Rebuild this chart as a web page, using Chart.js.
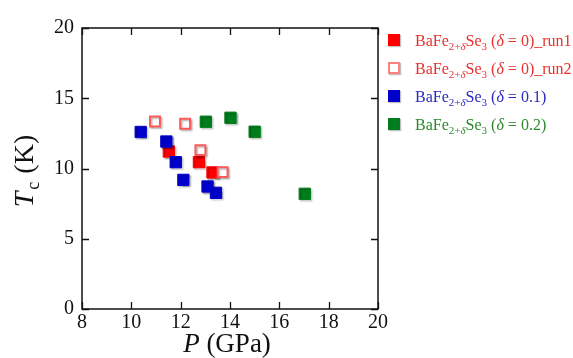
<!DOCTYPE html>
<html>
<head>
<meta charset="utf-8">
<script src="https://cdn.jsdelivr.net/npm/chart.js@4.4.1/dist/chart.umd.min.js"></script>
<style>
html,body{margin:0;padding:0;background:#fff;}
#wrap{width:573px;height:358px;position:relative;}
</style>
</head>
<body>
<div id="wrap"><canvas id="c" width="573" height="358"></canvas></div>
<script>
// ---- data ----
const pRun1  = [11.52, 12.74, 13.29];
const tcRun1 = [11.21, 10.45, 9.72];
const pRun2  = [10.96, 12.18, 12.80, 13.70];
const tcRun2 = [13.35, 13.19, 11.31, 9.74];
const pD01   = [10.38, 11.42, 11.80, 12.11, 13.09, 13.43];
const tcD01  = [12.60, 11.92, 10.45, 9.19, 8.72, 8.27];
const pD02   = [13.02, 14.02, 15.00, 17.03];
const tcD02  = [13.33, 13.61, 12.62, 8.20];
const xTickValues = [8, 10, 12, 14, 16, 18, 20];
const yTickValues = [0, 5, 10, 15, 20];
const legendDelta = ['0)_run1', '0)_run2', '0.1)', '0.2)'];

const RED = '#ff0000', OPEN = '#ff5a5a', BLUE = '#0000cc', GREEN = '#007d1c';
const legendTextColors = ['#e8302c', '#e8302c', '#2828c4', '#2a8a2a'];

function pts(xs, ys){ return xs.map((v,i)=>({x:v, y:ys[i]})); }

const SERIF = '"Liberation Serif", "Times New Roman", serif';

const framePlugin = {
  id: 'frame',
  beforeDatasetsDraw(chart){
    const ctx = chart.ctx;
    ctx.save();
    ctx.shadowColor = 'rgba(0,0,0,0.28)';
    ctx.shadowOffsetX = 1.5;
    ctx.shadowOffsetY = 1.5;
    ctx.shadowBlur = 1.5;
  },
  afterDatasetsDraw(chart){ chart.ctx.restore(); },
  afterDraw(chart){
    const {ctx, chartArea:{left,right,top,bottom}, scales:{x,y}} = chart;
    ctx.save();
    ctx.strokeStyle = '#111';
    ctx.lineWidth = 1.5;
    ctx.strokeRect(left, top, right-left, bottom-top);
    ctx.lineWidth = 1.3;
    const tl = 7;
    ctx.beginPath();
    x.ticks.forEach(t=>{
      const px = Math.round(x.getPixelForValue(t.value))+0.5;
      ctx.moveTo(px, bottom); ctx.lineTo(px, bottom-tl);
      ctx.moveTo(px, top); ctx.lineTo(px, top+tl);
    });
    y.ticks.forEach(t=>{
      const py = Math.round(y.getPixelForValue(t.value))+0.5;
      ctx.moveTo(left, py); ctx.lineTo(left+tl, py);
      ctx.moveTo(right, py); ctx.lineTo(right-tl, py);
    });
    ctx.stroke();

    // axis titles
    ctx.fillStyle = '#111';
    ctx.textBaseline = 'alphabetic';
    // x title: P (GPa)
    const fBig = 27;
    ctx.font = 'italic ' + fBig + 'px ' + SERIF;
    const wP = ctx.measureText('P').width;
    ctx.font = fBig + 'px ' + SERIF;
    const wRest = ctx.measureText(' (GPa)').width;
    let sx = 227 - (wP+wRest)/2;
    const by = 352;
    ctx.font = 'italic ' + fBig + 'px ' + SERIF;
    ctx.fillText('P', sx, by);
    ctx.font = fBig + 'px ' + SERIF;
    ctx.fillText(' (GPa)', sx + wP, by);

    // y title: Tc (K)
    const fY = 28;
    ctx.save();
    ctx.translate(33, 171);
    ctx.rotate(-Math.PI/2);
    ctx.font = 'italic ' + fY + 'px ' + SERIF;
    const wT = ctx.measureText('T').width;
    ctx.font = '18px ' + SERIF;
    const wc = ctx.measureText('c').width;
    ctx.font = fY + 'px ' + SERIF;
    const wK = ctx.measureText(' (K)').width;
    let tx = -(wT + wc + 3 + wK)/2;
    ctx.font = 'italic ' + fY + 'px ' + SERIF;
    ctx.fillText('T', tx, 0);
    ctx.font = '18px ' + SERIF;
    ctx.fillText('c', tx + wT + 2, 6);
    ctx.font = fY + 'px ' + SERIF;
    ctx.fillText(' (K)', tx + wT + wc + 3, 0);
    ctx.restore();

    // legend
    const rowsY = [40, 68, 96, 124];
    const mx = 394, ms = 12;
    const fs = 16, fsub = 11;
    chart.data.datasets.forEach((ds, i)=>{
      const cy = rowsY[i];
      ctx.save();
      ctx.shadowColor = 'rgba(0,0,0,0.25)';
      ctx.shadowOffsetX = 1; ctx.shadowOffsetY = 1; ctx.shadowBlur = 1;
      if (ds.backgroundColor === '#ffffff') {
        ctx.fillStyle = '#fff';
        ctx.fillRect(mx-ms/2, cy-ms/2, ms, ms);
        ctx.shadowColor = 'transparent';
        ctx.strokeStyle = ds.borderColor; ctx.lineWidth = 1.5;
        ctx.strokeRect(mx-ms/2+1, cy-ms/2+1, ms-2, ms-2);
      } else {
        ctx.fillStyle = ds.backgroundColor;
        ctx.fillRect(mx-ms/2, cy-ms/2, ms, ms);
      }
      ctx.restore();
      ctx.fillStyle = legendTextColors[i];
      let x0 = 415;
      const base = cy + 6;
      const put = (txt, font, dy) => { ctx.font = font; ctx.fillText(txt, x0, base + dy); x0 += ctx.measureText(txt).width; };
      put('BaFe', fs + 'px ' + SERIF, 0);
      put('2+', fsub + 'px ' + SERIF, 4);
      put('δ', 'italic ' + fsub + 'px ' + SERIF, 4);
      put('Se', fs + 'px ' + SERIF, 0);
      put('3', fsub + 'px ' + SERIF, 4);
      put(' (', fs + 'px ' + SERIF, 0);
      put('δ', 'italic ' + fs + 'px ' + SERIF, 0);
      put(' = ' + legendDelta[i], fs + 'px ' + SERIF, 0);
    });
    ctx.restore();
  }
};

new Chart(document.getElementById('c'), {
  type: 'scatter',
  data: {
    datasets: [
      {label:'run1', data: pts(pRun1, tcRun1), pointStyle:'rect', radius:8, hoverRadius:8,
       backgroundColor: RED, borderColor: RED, borderWidth:1, order:4},
      {label:'run2', data: pts(pRun2, tcRun2), pointStyle:'rect', radius:7, hoverRadius:7,
       backgroundColor: '#ffffff', borderColor: OPEN, borderWidth:2, order:3},
      {label:'0.1', data: pts(pD01, tcD01), pointStyle:'rect', radius:8, hoverRadius:8,
       backgroundColor: BLUE, borderColor: BLUE, borderWidth:1, order:2},
      {label:'0.2', data: pts(pD02, tcD02), pointStyle:'rect', radius:8, hoverRadius:8,
       backgroundColor: GREEN, borderColor: GREEN, borderWidth:1, order:1}
    ]
  },
  options: {
    responsive: false,
    animation: false,
    layout: { padding: { top: 28, right: 195, left: 0, bottom: 0 } },
    plugins: { legend: { display: false }, tooltip: { enabled: false } },
    scales: {
      x: {
        type: 'linear', min: 8, max: 20,
        afterBuildTicks: s => { s.ticks = xTickValues.map(v=>({value:v})); },
        afterFit: s => { s.height = 49; },
        grid: { display: false, drawTicks: false },
        border: { display: false },
        ticks: { padding: 2, color: '#111', font: { family: SERIF, size: 20 }, maxRotation: 0, autoSkip: false }
      },
      y: {
        type: 'linear', min: 0, max: 20,
        afterBuildTicks: s => { s.ticks = yTickValues.map(v=>({value:v})); },
        afterFit: s => { s.width = 82; },
        grid: { display: false, drawTicks: false },
        border: { display: false },
        ticks: { padding: 8, color: '#111', font: { family: SERIF, size: 20 }, autoSkip: false }
      }
    }
  },
  plugins: [framePlugin]
});
</script>
</body>
</html>
